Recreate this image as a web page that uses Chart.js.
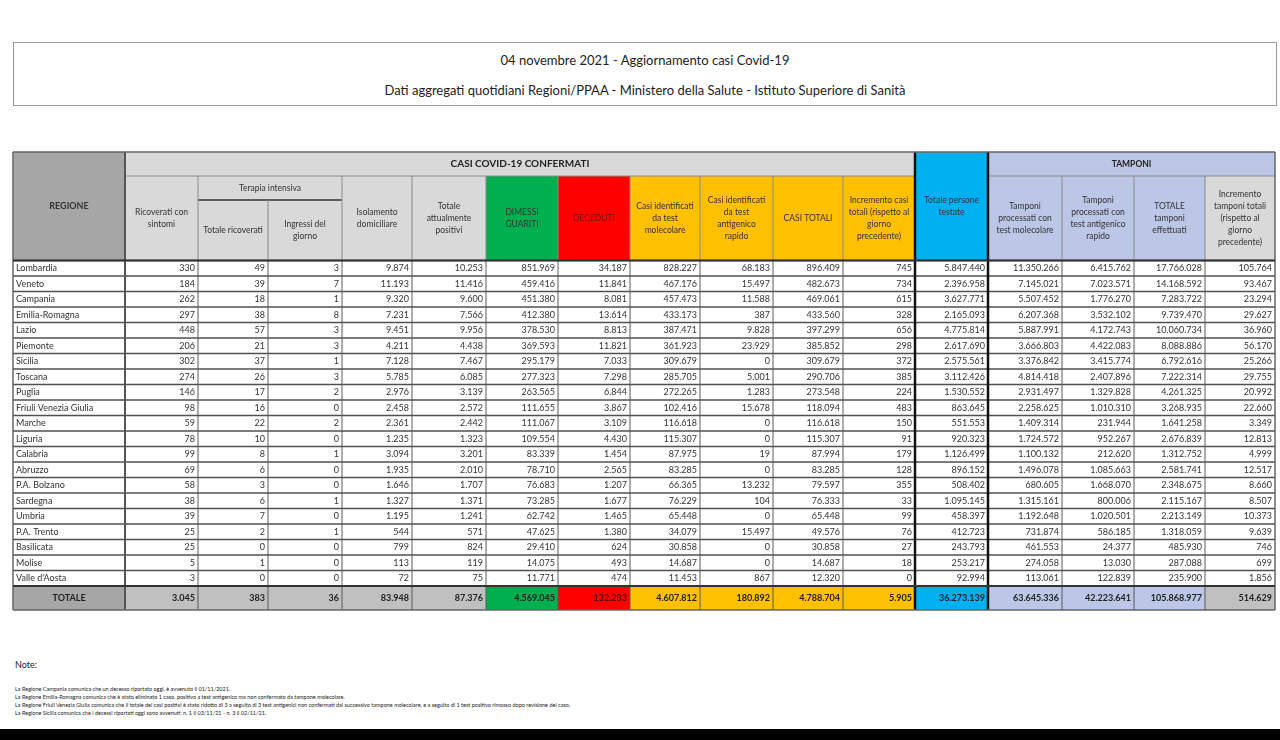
<!DOCTYPE html>
<html lang="it">
<head>
<meta charset="utf-8">
<title>04 novembre 2021 - Aggiornamento casi Covid-19</title>
<script src="https://cdn.jsdelivr.net/npm/chart.js@4.4.1/dist/chart.umd.min.js"></script>
<style>
  html, body { margin: 0; padding: 0; background: #fff; }
  body { width: 1280px; height: 740px; position: relative; overflow: hidden;
         font-family: Lato, "DejaVu Sans Condensed", sans-serif; color: #222; }
  #titolo { position: absolute; left: 13px; top: 42px; width: 1262px; height: 62px; border: 1px solid #9a9a9a; }
  #titolo div { position: absolute; left: 0; right: 0; text-align: center; font-size: 13px; }
  #t1 { top: 9px; }
  #t2 { top: 39px; }
  #tabella { position: absolute; left: 11px; top: 150px; }
  #note { position: absolute; left: 15px; top: 659px; font-size: 5.5px; line-height: 8px; }
  #note .h { font-size: 9px; line-height: 12px; margin-bottom: 14px; }
  #fondo { position: absolute; left: 0; top: 729px; width: 1280px; height: 11px; background: #000; }
</style>
</head>
<body>
<div id="titolo">
  <div id="t1">04 novembre 2021 - Aggiornamento casi Covid-19</div>
  <div id="t2">Dati aggregati quotidiani Regioni/PPAA - Ministero della Salute - Istituto Superiore di Sanità</div>
</div>
<canvas id="tabella" width="1266" height="462"></canvas>
<div id="note">
  <div class="h">Note:</div>
  <div>La Regione Campania comunica che un decesso riportato oggi, è avvenuto il 01/11/2021.</div>
  <div>La Regione Emilia-Romagna comunica che è stato eliminato 1 caso, positivo a test antigenico ma non confermato da tampone molecolare.</div>
  <div>La Regione Friuli Venezia Giulia comunica che il totale dei casi positivi è stato ridotto di 3 a seguito di 3 test antigenici non confermati dal successivo tampone molecolare, e a seguito di 1 test positivo rimosso dopo revisione del caso.</div>
  <div>La Regione Sicilia comunica che i decessi riportati oggi sono avvenuti: n. 1 il 03/11/21 - n. 3 il 02/11/21.</div>
</div>
<div id="fondo"></div>
<script>
// dati del bollettino
const regioni = ["Lombardia", "Veneto", "Campania", "Emilia-Romagna", "Lazio", "Piemonte", "Sicilia", "Toscana", "Puglia",
  "Friuli Venezia Giulia", "Marche", "Liguria", "Calabria", "Abruzzo", "P.A. Bolzano", "Sardegna", "Umbria", "P.A. Trento",
  "Basilicata", "Molise", "Valle d'Aosta"];
const ricoveratiSintomi = [330, 184, 262, 297, 448, 206, 302, 274, 146, 98, 59, 78, 99, 69, 58, 38, 39, 25, 25, 5, 3];
const terapiaTotale = [49, 39, 18, 38, 57, 21, 37, 26, 17, 16, 22, 10, 8, 6, 3, 6, 7, 2, 0, 1, 0];
const terapiaIngressi = [3, 7, 1, 8, 3, 3, 1, 3, 2, 0, 2, 0, 1, 0, 0, 1, 0, 1, 0, 0, 0];
const isolamento = [9874, 11193, 9320, 7231, 9451, 4211, 7128, 5785, 2976, 2458, 2361, 1235, 3094, 1935, 1646, 1327, 1195, 544, 799, 113, 72];
const totalePositivi = [10253, 11416, 9600, 7566, 9956, 4438, 7467, 6085, 3139, 2572, 2442, 1323, 3201, 2010, 1707, 1371, 1241, 571, 824, 119, 75];
const dimessiGuariti = [851969, 459416, 451380, 412380, 378530, 369593, 295179, 277323, 263565, 111655, 111067, 109554, 83339, 78710, 76683, 73285, 62742, 47625, 29410, 14075, 11771];
const deceduti = [34187, 11841, 8081, 13614, 8813, 11821, 7033, 7298, 6844, 3867, 3109, 4430, 1454, 2565, 1207, 1677, 1465, 1380, 624, 493, 474];
const casiMolecolare = [828227, 467176, 457473, 433173, 387471, 361923, 309679, 285705, 272265, 102416, 116618, 115307, 87975, 83285, 66365, 76229, 65448, 34079, 30858, 14687, 11453];
const casiAntigenico = [68183, 15497, 11588, 387, 9828, 23929, 0, 5001, 1283, 15678, 0, 0, 19, 0, 13232, 104, 0, 15497, 0, 0, 867];
const casiTotali = [896409, 482673, 469061, 433560, 397299, 385852, 309679, 290706, 273548, 118094, 116618, 115307, 87994, 83285, 79597, 76333, 65448, 49576, 30858, 14687, 12320];
const incrementoCasi = [745, 734, 615, 328, 656, 298, 372, 385, 224, 483, 150, 91, 179, 128, 355, 33, 99, 76, 27, 18, 0];
const personeTestate = [5847440, 2396958, 3627771, 2165093, 4775814, 2617690, 2575561, 3112426, 1530552, 863645, 551553, 920323, 1126499, 896152, 508402, 1095145, 458397, 412723, 243793, 253217, 92994];
const tamponiMolecolare = [11350266, 7145021, 5507452, 6207368, 5887991, 3666803, 3376842, 4814418, 2931497, 2258625, 1409314, 1724572, 1100132, 1496078, 680605, 1315161, 1192648, 731874, 461553, 274058, 113061];
const tamponiAntigenico = [6415762, 7023571, 1776270, 3532102, 4172743, 4422083, 3415774, 2407896, 1329828, 1010310, 231944, 952267, 212620, 1085663, 1668070, 800006, 1020501, 586185, 24377, 13030, 122839];
const tamponiTotali = [17766028, 14168592, 7283722, 9739470, 10060734, 8088886, 6792616, 7222314, 4261325, 3268935, 1641258, 2676839, 1312752, 2581741, 2348675, 2115167, 2213149, 1318059, 485930, 287088, 235900];
const incrementoTamponi = [105764, 93467, 23294, 29627, 36960, 56170, 25266, 29755, 20992, 22660, 3349, 12813, 4999, 12517, 8660, 8507, 10373, 9639, 746, 699, 1856];
const rigaTotale = [3045, 383, 36, 83948, 87376, 4569045, 132283, 4607812, 180892, 4788704, 5905, 36273139, 63645336, 42223641, 105868977, 514629];

const intestazioni = ["REGIONE", "Ricoverati con\nsintomi", "Totale ricoverati", "Ingressi del\ngiorno", "Isolamento\ndomiciliare",
  "Totale\nattualmente\npositivi", "DIMESSI\nGUARITI", "DECEDUTI", "Casi identificati\nda test\nmolecolare",
  "Casi identificati\nda test\nantigenico\nrapido", "CASI TOTALI", "Incremento casi\ntotali (rispetto al\ngiorno\nprecedente)",
  "Totale persone\ntestate", "Tamponi\nprocessati con\ntest molecolare", "Tamponi\nprocessati con\ntest antigenico\nrapido",
  "TOTALE\ntamponi\neffettuati", "Incremento\ntamponi totali\n(rispetto al\ngiorno\nprecedente)"];
const gruppi = ["CASI COVID-19 CONFERMATI", "Terapia intensiva", "TAMPONI"];

const colonne = [ricoveratiSintomi, terapiaTotale, terapiaIngressi, isolamento, totalePositivi, dimessiGuariti, deceduti,
  casiMolecolare, casiAntigenico, casiTotali, incrementoCasi, personeTestate, tamponiMolecolare, tamponiAntigenico,
  tamponiTotali, incrementoTamponi];

// layout (larghezze colonne, righe di intestazione)
const larghezze = [112, 73, 70, 74, 70, 74, 72, 72, 70, 73, 70, 72, 73, 74, 72, 71, 70];
const bordi = larghezze.reduce((a, w) => { a.push(a[a.length - 1] + w); return a; }, [0]);
const BANDA = 1.55, HEAD = 7, TOT_H = 1.55;
const Y_MAX = HEAD + regioni.length + TOT_H;

const GRIGIO_SCURO = "#a6a6a6", GRIGIO = "#d9d9d9", GRIGIO_MEDIO = "#c0c0c0", VERDE = "#00b050", ROSSO = "#ff0000",
  ARANCIO = "#ffc000", AZZURRO = "#00b0f0", LILLA = "#bcc6e6";
const fillHead = [GRIGIO_SCURO, GRIGIO, GRIGIO, GRIGIO, GRIGIO, GRIGIO, VERDE, ROSSO, ARANCIO, ARANCIO, ARANCIO, ARANCIO,
  AZZURRO, LILLA, LILLA, LILLA, GRIGIO];
const fillTot = [GRIGIO_SCURO, GRIGIO_MEDIO, GRIGIO_MEDIO, GRIGIO_MEDIO, GRIGIO_MEDIO, GRIGIO_MEDIO, VERDE, ROSSO, ARANCIO,
  ARANCIO, ARANCIO, ARANCIO, AZZURRO, LILLA, LILLA, LILLA, GRIGIO_MEDIO];
const topHead = [0, BANDA, 2 * BANDA, 2 * BANDA, BANDA, BANDA, BANDA, BANDA, BANDA, BANDA, BANDA, BANDA, 0, BANDA, BANDA, BANDA, BANDA];

const FONT = 'Lato, "DejaVu Sans Condensed", sans-serif';

function fmt(n) {
  return String(n).replace(/\B(?=(\d{3})+(?!\d))/g, ".");
}

const tablePlugin = {
  id: "tabellaCovid",
  afterDraw(chart) {
    const { ctx, scales: { x, y } } = chart;
    const X = c => x.getPixelForValue(bordi[c]);
    const Y = r => y.getPixelForValue(r);

    function cell(c0, c1, r0, r1, fill) {
      ctx.fillStyle = fill;
      ctx.fillRect(X(c0), Y(r0), X(c1) - X(c0), Y(r1) - Y(r0));
    }
    function hline(c0, c1, r, w, col) {
      ctx.strokeStyle = col; ctx.lineWidth = w;
      ctx.beginPath(); ctx.moveTo(X(c0), Y(r)); ctx.lineTo(X(c1), Y(r)); ctx.stroke();
    }
    function vline(c, r0, r1, w, col) {
      ctx.strokeStyle = col; ctx.lineWidth = w;
      ctx.beginPath(); ctx.moveTo(X(c), Y(r0)); ctx.lineTo(X(c), Y(r1)); ctx.stroke();
    }
    function testo(str, px, py, align, font, color) {
      ctx.font = font; ctx.fillStyle = color; ctx.textAlign = align; ctx.textBaseline = "middle";
      ctx.fillText(str, px, py);
    }
    function multi(str, cx, cy, font, lh, color) {
      const righe = str.split("\n");
      const y0 = cy - (righe.length - 1) * lh / 2;
      righe.forEach((t, i) => testo(t, cx, y0 + i * lh, "center", font, color));
    }

    ctx.save();
    // intestazione
    cell(0, 17, 0, Y_MAX, "#ffffff");
    cell(1, 12, 0, BANDA, GRIGIO);
    cell(13, 17, 0, BANDA, LILLA);
    cell(2, 4, BANDA, 2 * BANDA, GRIGIO);
    for (let c = 0; c < 17; c++) cell(c, c + 1, topHead[c], HEAD, fillHead[c]);

    // riga totale
    const rT = HEAD + regioni.length;
    for (let c = 0; c < 17; c++) cell(c, c + 1, rT, Y_MAX, fillTot[c]);

    // linee intestazione
    hline(1, 12, BANDA, 1, "#8a8a8a");
    hline(13, 17, BANDA, 1, "#8a8a8a");
    hline(2, 4, 2 * BANDA, 1.5, "#333");
    for (let c = 2; c < 12; c++) vline(c, c === 3 ? 2 * BANDA : BANDA, HEAD, 1, "#8a8a8a");
    for (let c = 14; c < 17; c++) vline(c, BANDA, HEAD, 1, "#8a8a8a");

    // righe dati
    for (let r = 0; r <= regioni.length; r++) hline(0, 17, HEAD + r, 1.6, "#505050");
    for (let c = 1; c < 17; c++) vline(c, HEAD, Y_MAX, 1, "#5a5a5a");
    vline(1, 0, Y_MAX, 2, "#555");
    vline(12, 0, Y_MAX, 2.5, "#111");
    vline(13, 0, Y_MAX, 2.5, "#111");
    hline(0, 17, 0, 1.5, "#666");
    hline(0, 17, Y_MAX, 1.5, "#666");
    vline(0, 0, Y_MAX, 1.5, "#666");
    vline(17, 0, Y_MAX, 1.5, "#666");
    hline(0, 17, HEAD, 2, "#333");
    hline(0, 17, rT, 2, "#333");

    // testi intestazione
    const fH = "8.5px " + FONT, fHB = "bold 9px " + FONT;
    const cx = (a, b) => (X(a) + X(b)) / 2;
    testo(intestazioni[0], cx(0, 1), Y(HEAD / 2), "center", fHB, "#333");
    testo(gruppi[0], cx(1, 12), Y(BANDA / 2), "center", "bold 10px " + FONT, "#222");
    testo(gruppi[1], cx(2, 4), Y(1.5 * BANDA), "center", fH, "#333");
    testo(gruppi[2], cx(13, 17), Y(BANDA / 2), "center", "bold 8.5px " + FONT, "#222");
    for (let c = 1; c < 17; c++) {
      const col = c === 7 ? "#7a0a0a" : "#333";
      multi(intestazioni[c], cx(c, c + 1), Y((topHead[c] + HEAD) / 2), fH, 12, col);
    }

    // testi dati
    const fD = "9px " + FONT;
    regioni.forEach((nome, i) => {
      const ym = Y(HEAD + i + 0.5);
      testo(nome, X(0) + 3, ym, "left", fD, "#333");
      colonne.forEach((serie, k) => testo(fmt(serie[i]), X(k + 2) - 3, ym, "right", fD, "#333"));
    });
    const yT = Y(rT + TOT_H / 2);
    testo("TOTALE", cx(0, 1), yT, "center", "bold 9px " + FONT, "#222");
    rigaTotale.forEach((v, k) => testo(fmt(v), X(k + 2) - 3, yT, "right", "bold 9px " + FONT, k === 6 ? "#5a0000" : "#222"));
    ctx.restore();
  }
};

new Chart(document.getElementById("tabella"), {
  type: "scatter",
  data: { datasets: [{ data: [], pointRadius: 0 }] },
  options: {
    responsive: false,
    animation: false,
    events: [],
    layout: { padding: 2 },
    scales: {
      x: { type: "linear", min: 0, max: bordi[bordi.length - 1], display: false },
      y: { type: "linear", min: 0, max: Y_MAX, reverse: true, display: false }
    },
    plugins: { legend: { display: false }, tooltip: { enabled: false } }
  },
  plugins: [tablePlugin]
});
</script>
</body>
</html>
